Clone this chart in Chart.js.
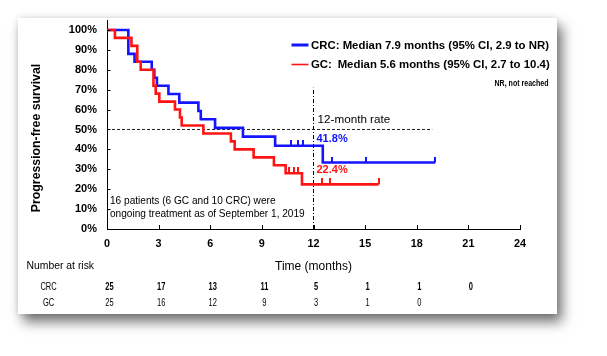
<!DOCTYPE html>
<html><head><meta charset="utf-8">
<script src="https://cdn.jsdelivr.net/npm/chart.js@4.4.1/dist/chart.umd.min.js"></script>
<style>
html,body{margin:0;padding:0;background:#fff;width:607px;height:356px;overflow:hidden;}
#card{position:absolute;left:18px;top:18px;width:539px;height:296px;background:#fff;
  box-shadow:5px 8px 12px rgba(0,0,0,0.55), 0 0 6px rgba(0,0,0,0.12);}
#c{position:absolute;left:0;top:0;}
</style></head><body>
<div id="card"></div>
<canvas id="c" width="607" height="356"></canvas>
<script>
const FONT = "'Liberation Sans', Arial, Helvetica, sans-serif";

// ---- data ----
const crcTimes = [0, 1.24, 1.6, 2.6, 2.75, 2.9, 3.57, 4.2, 5.31, 5.45, 6.28, 7.9, 9.77, 12.54, 19.07];
const crcSurv  = [100, 88, 84, 80, 76, 72, 67.8, 63.5, 59.3, 55.1, 50.8, 46.4, 41.8, 33.4, 33.4];
const gcTimes  = [0, 0.46, 1.42, 1.76, 1.96, 2.7, 2.83, 3.04, 3.95, 4.24, 4.34, 5.6, 7.2, 7.42, 8.52, 9.7, 10.38, 11.33, 15.78];
const gcSurv   = [100, 96, 92, 84, 80, 72, 68, 64, 60, 56, 52, 48, 44, 40, 36, 32, 28, 22.4, 22.4];
const crcCensorTimes = [10.68, 11.12, 11.38, 13.06, 15.06, 19.07];
const crcCensorSurv  = [41.8, 41.8, 41.8, 33.4, 33.4, 33.4];
const gcCensorTimes  = [10.6, 10.85, 11.1, 12.5, 12.97, 15.78];
const gcCensorSurv   = [28, 28, 28, 22.4, 22.4, 22.4];
const riskTimes = [0, 3, 6, 9, 12, 15, 18, 21];
const crcAtRisk = [25, 17, 13, 11, 5, 1, 1, 0];
const gcAtRisk  = [25, 16, 12, 9, 3, 1, 0];
const xTickValues = [0, 3, 6, 9, 12, 15, 18, 21, 24];
const yTickValues = [0, 10, 20, 30, 40, 50, 60, 70, 80, 90, 100];
const landmarkMonth = 12;
const landmarkTop = 71;
const crcLandmarkRate = 41.8;
const gcLandmarkRate = 22.4;
const medianLevel = 50;
const medianLineEnd = 18.9;
const legendLabels = {
  crc: ['CRC:', 'Median 7.9 months (95% CI, 2.9 to NR)'],
  gc:  ['GC:',  'Median 5.6 months (95% CI, 2.7 to 10.4)']
};

const BLUE = '#1414ff', RED = '#ff1414';
const pts = (xs, ys) => xs.map((t, i) => ({x: t, y: ys[i]}));

function censorMark(color){
  const c = document.createElement('canvas');
  c.width = 2; c.height = 12;
  const g = c.getContext('2d');
  g.fillStyle = color; g.fillRect(0, 0, 2, 6);
  return c;
}

function narrowText(ctx, text, x, y, sx){
  ctx.save();
  ctx.translate(x, y);
  ctx.scale(sx, 1);
  ctx.fillText(text, 0, 0);
  ctx.restore();
}

const decorPlugin = {
  id: 'decor',
  afterDraw(chart){
    const {ctx, scales: {x, y}} = chart;
    ctx.save();
    ctx.fillStyle = '#000';
    ctx.strokeStyle = '#000';
    ctx.lineWidth = 1;
    // inward tick marks
    ctx.beginPath();
    yTickValues.forEach(v => { const py = Math.round(y.getPixelForValue(v)) + 0.5; ctx.moveTo(x.left, py); ctx.lineTo(x.left + 3.5, py); });
    xTickValues.forEach(v => { const px = Math.round(x.getPixelForValue(v)) + 0.5; ctx.moveTo(px, y.bottom); ctx.lineTo(px, y.bottom - 4); });
    ctx.stroke();

    // y title
    ctx.save();
    ctx.translate(36.5, 138);
    ctx.rotate(-Math.PI / 2);
    ctx.font = 'bold 12.3px ' + FONT;
    ctx.textAlign = 'center'; ctx.textBaseline = 'middle';
    ctx.fillText('Progression-free survival', 0, 0);
    ctx.restore();

    // legend
    ctx.font = 'bold 11.4px ' + FONT;
    ctx.textBaseline = 'middle'; ctx.textAlign = 'left';
    const lx = 291.5, tx = 311;
    const medX = tx + ctx.measureText('CRC: ').width;
    ctx.lineWidth = 3; ctx.strokeStyle = BLUE;
    ctx.beginPath(); ctx.moveTo(lx, 45); ctx.lineTo(lx + 17, 45); ctx.stroke();
    ctx.lineWidth = 1.6; ctx.strokeStyle = RED;
    ctx.beginPath(); ctx.moveTo(lx, 64.5); ctx.lineTo(lx + 17, 64.5); ctx.stroke();
    ctx.fillStyle = '#000';
    ctx.fillText(legendLabels.crc[0], tx, 45.5);
    ctx.fillText(legendLabels.crc[1], medX, 45.5);
    ctx.fillText(legendLabels.gc[0], tx, 64.5);
    ctx.fillText(legendLabels.gc[1], medX - 5, 64.5);
    ctx.font = 'bold 8.8px ' + FONT;
    ctx.textAlign = 'right';
    narrowText(ctx, 'NR, not reached', 548.5, 84, 0.8);

    // landmark annotations
    const px12 = x.getPixelForValue(landmarkMonth);
    ctx.textAlign = 'left';
    ctx.font = '11.7px ' + FONT;
    ctx.fillStyle = '#000';
    ctx.fillText('12-month rate', px12 + 4, 120);
    ctx.font = 'bold 11px ' + FONT;
    ctx.fillStyle = BLUE;
    ctx.fillText(crcLandmarkRate.toFixed(1) + '%', px12 + 3, y.getPixelForValue(crcLandmarkRate) - 6.5);
    ctx.fillStyle = RED;
    ctx.fillText(gcLandmarkRate.toFixed(1) + '%', px12 + 3, y.getPixelForValue(gcLandmarkRate) - 14.5);

    // ongoing note
    ctx.fillStyle = '#000';
    ctx.font = '10.1px ' + FONT;
    ctx.fillText('16 patients (6 GC and 10 CRC) were', x.left + 3, 201.5);
    ctx.fillText('ongoing treatment as of September 1, 2019', x.left + 3, 214);

    // x title
    ctx.textAlign = 'center';
    ctx.font = '12px ' + FONT;
    ctx.fillText('Time (months)', (x.left + x.right) / 2, 266.5);

    // number at risk table
    ctx.textAlign = 'left';
    ctx.font = '10.4px ' + FONT;
    ctx.fillText('Number at risk', 26.5, 266.5);
    ctx.textAlign = 'center';
    ctx.font = '10px ' + FONT;
    narrowText(ctx, 'CRC', 48.5, 287.5, 0.75);
    narrowText(ctx, 'GC', 48.5, 303.5, 0.75);
    ctx.font = 'bold 10px ' + FONT;
    crcAtRisk.forEach((n, i) => narrowText(ctx, String(n), x.getPixelForValue(riskTimes[i]) + 2.5, 287.5, 0.75));
    ctx.font = '10px ' + FONT;
    gcAtRisk.forEach((n, i) => narrowText(ctx, String(n), x.getPixelForValue(riskTimes[i]) + 2.5, 303.5, 0.75));
    ctx.restore();
  }
};

new Chart(document.getElementById('c'), {
  type: 'line',
  data: {
    datasets: [
      { data: pts(gcCensorTimes, gcCensorSurv), showLine: false, pointStyle: censorMark(RED), pointRadius: 5, order: 0, clip: false },
      { data: pts(crcCensorTimes, crcCensorSurv), showLine: false, pointStyle: censorMark(BLUE), pointRadius: 5, order: 0, clip: false },
      { data: pts(gcTimes, gcSurv), stepped: true, borderColor: RED, borderWidth: 2.6, pointRadius: 0, fill: false, order: 1, clip: false, borderJoinStyle: 'miter' },
      { data: pts(crcTimes, crcSurv), stepped: true, borderColor: BLUE, borderWidth: 2.6, pointRadius: 0, fill: false, order: 2, clip: false, borderJoinStyle: 'miter' },
      { data: [{x: 0, y: medianLevel}, {x: medianLineEnd, y: medianLevel}], borderColor: '#222', borderWidth: 1, borderDash: [3, 2], pointRadius: 0, order: 5, clip: false },
      { data: [{x: landmarkMonth, y: 0}, {x: landmarkMonth, y: landmarkTop}], borderColor: '#000', borderWidth: 1, borderDash: [4, 2, 1, 2], pointRadius: 0, order: 5, clip: false }
    ]
  },
  options: {
    responsive: false,
    animation: false,
    devicePixelRatio: 1,
    layout: { padding: { left: 0, right: 87, top: 20, bottom: 97 } },
    plugins: { legend: { display: false }, tooltip: { enabled: false } },
    scales: {
      x: {
        type: 'linear', min: 0, max: 24,
        afterBuildTicks: s => { s.ticks = xTickValues.map(v => ({value: v})); },
        afterFit: s => { s.height = 30; },
        grid: { display: false, drawTicks: false },
        border: { display: true, color: '#000', width: 1 },
        ticks: { color: '#000', font: { family: FONT, size: 10.8, weight: 'bold' }, padding: 9, maxRotation: 0 }
      },
      y: {
        type: 'linear', min: 0, max: 105,
        afterBuildTicks: s => { s.ticks = yTickValues.map(v => ({value: v})); },
        afterFit: s => { s.width = 107; },
        grid: { display: false, drawTicks: false },
        border: { display: true, color: '#000', width: 1 },
        ticks: { color: '#000', font: { family: FONT, size: 11, weight: 'bold' }, padding: 10, callback: v => v + '%' }
      }
    }
  },
  plugins: [decorPlugin]
});
</script>
</body></html>
